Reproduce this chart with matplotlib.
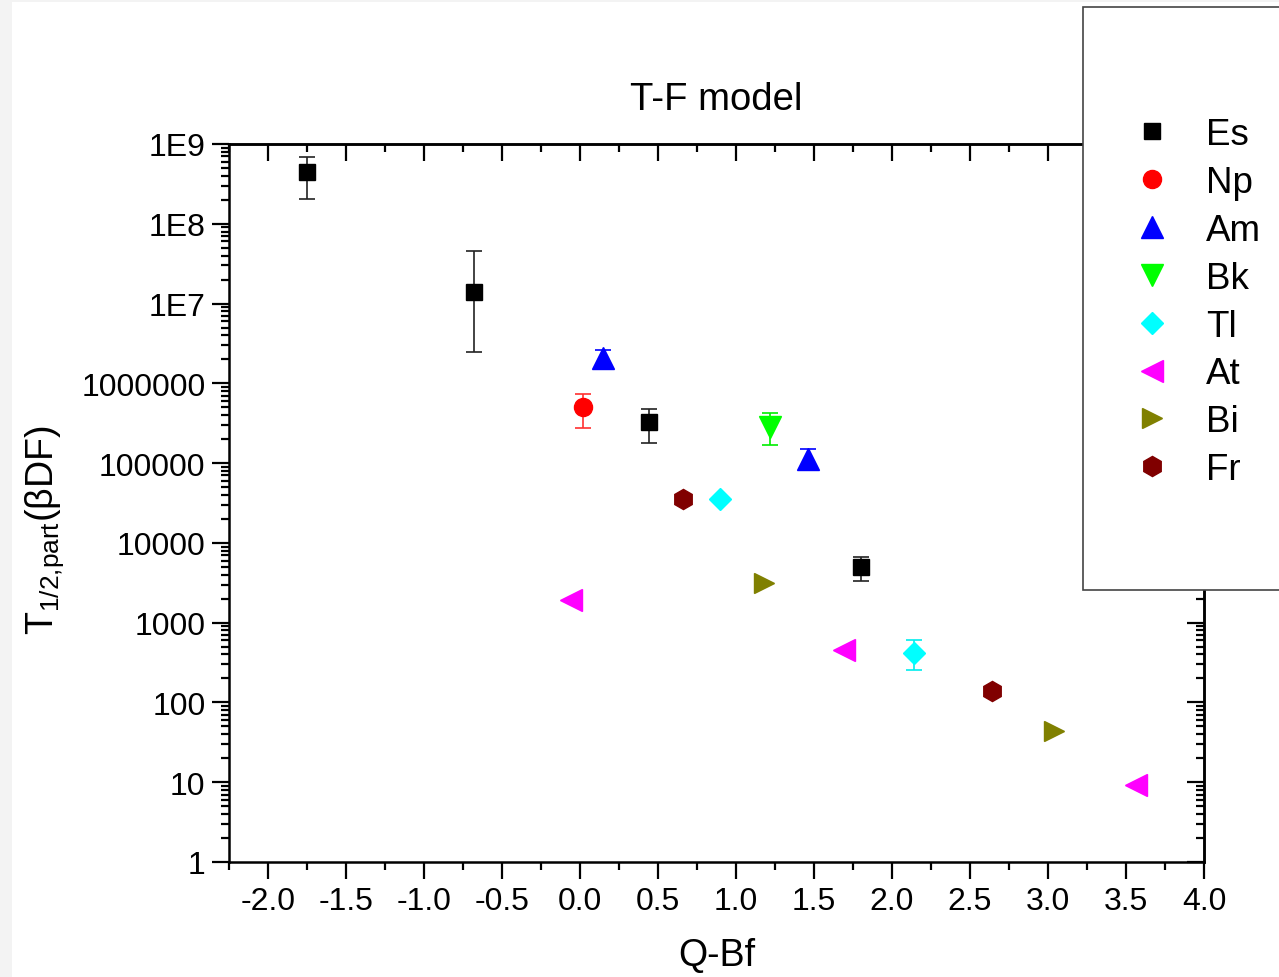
import matplotlib
matplotlib.use("Agg")
import matplotlib.pyplot as plt
from matplotlib.patches import Rectangle
from matplotlib.lines import Line2D
from matplotlib.ticker import FixedLocator, MultipleLocator, LogLocator, NullFormatter, FixedFormatter

plt.rcParams['font.family'] = ['Liberation Sans', 'DejaVu Sans']
plt.rcParams['mathtext.fontset'] = 'custom'
plt.rcParams['mathtext.rm'] = 'Liberation Sans'
plt.rcParams['mathtext.it'] = 'Liberation Sans'

# ---------------- data ----------------
es_x = [-1.75, -0.68, 0.44, 1.80]
es_y = [4.45e8, 1.39e7, 3.24e5, 5.0e3]
es_hi = [6.9e8, 4.5e7, 4.7e5, 6.7e3]
es_lo = [2.05e8, 2.5e6, 1.8e5, 3.3e3]

np_x = [0.02]
np_y = [5.0e5]
np_hi = [7.3e5]
np_lo = [2.75e5]

am_x = [0.15, 1.46]
am_y = [2.1e6, 1.12e5]
am_hi = [2.6e6, 1.5e5]
am_lo = [1.5e6, 8.2e4]

bk_x = [1.22]
bk_y = [2.8e5]
bk_hi = [4.2e5]
bk_lo = [1.7e5]

tl_x = [0.90, 2.14]
tl_y = [3.6e4, 420]
tl_hi = [3.6e4, 600]
tl_lo = [3.6e4, 255]

at_x = [-0.055, 1.69, 3.565]
at_y = [1950, 450, 9.2]

bi_x = [1.18, 3.04]
bi_y = [3100, 44]

fr_x = [0.66, 2.64]
fr_y = [3.6e4, 140]

y_ticks = [1, 10, 100, 1000, 10000, 100000, 1000000, 1e7, 1e8, 1e9]
y_tick_labels = ['1', '10', '100', '1000', '10000', '100000', '1000000', '1E7', '1E8', '1E9']
x_ticks = [-2.0, -1.5, -1.0, -0.5, 0.0, 0.5, 1.0, 1.5, 2.0, 2.5, 3.0, 3.5, 4.0]

# ---------------- figure ----------------
W, H = 1279, 978
fig = plt.figure(figsize=(W / 100, H / 100), dpi=100)
ax = fig.add_axes([229 / W, 1 - 863 / H, (1204 - 229) / W, (863 - 145) / H])

# light grey page edges
fig.patches.append(Rectangle((0, 0), 12 / W, 1, transform=fig.transFigure,
                             facecolor='#f3f3f3', edgecolor='none', zorder=-1))
fig.patches.append(Rectangle((0, 1 - 3 / H), 1, 3 / H, transform=fig.transFigure,
                             facecolor='#f3f3f3', edgecolor='none', zorder=-1))


def err(y, hi, lo):
    return [[v - l for v, l in zip(y, lo)], [h - v for v, h in zip(y, hi)]]


eb_kw = dict(linestyle='none', capsize=5.5, elinewidth=1.2, capthick=1.2)

ax.errorbar(es_x, es_y, yerr=err(es_y, es_hi, es_lo), marker='s', ms=11.5,
            color='black', ecolor='#222222', mec='black', **eb_kw)
ax.errorbar(np_x, np_y, yerr=err(np_y, np_hi, np_lo), marker='o', ms=13,
            color='#ff0000', ecolor='#ff3030', mec='#ff0000', **eb_kw)
ax.errorbar(am_x, am_y, yerr=err(am_y, am_hi, am_lo), marker='^', ms=16,
            color='#0000ff', ecolor='#0000ff', mec='#0000ff', **eb_kw)
ax.errorbar(bk_x, bk_y, yerr=err(bk_y, bk_hi, bk_lo), marker='v', ms=15.5,
            color='#00ff00', ecolor='#00ee00', mec='#00ff00', **eb_kw)
ax.errorbar(tl_x, tl_y, yerr=err(tl_y, tl_hi, tl_lo), marker='D', ms=11,
            color='#00ffff', ecolor='#00eeee', mec='#00ffff', **eb_kw)
ax.plot(at_x, at_y, linestyle='none', marker='<', ms=16, color='#ff00ff', mec='#ff00ff')
ax.plot(bi_x, bi_y, linestyle='none', marker='>', ms=15, color='#808000', mec='#808000')
ax.plot(fr_x, fr_y, linestyle='none', marker='h', ms=14.5, color='#800000', mec='#800000')

ax.set_yscale('log')
ax.set_xlim(-2.25, 4.0)
ax.set_ylim(1, 1e9)

ax.xaxis.set_major_locator(FixedLocator(x_ticks))
ax.xaxis.set_minor_locator(MultipleLocator(0.25))
ax.set_xticklabels([f'{v:.1f}' for v in x_ticks])
ax.yaxis.set_major_locator(FixedLocator(y_ticks))
ax.yaxis.set_major_formatter(FixedFormatter(y_tick_labels))
ax.yaxis.set_minor_locator(LogLocator(base=10, subs=range(2, 10), numticks=20))
ax.yaxis.set_minor_formatter(NullFormatter())

ax.tick_params(which='major', direction='out', length=12, width=1.6, labelsize=23, pad=5,
               top=False, right=False)
ax.tick_params(which='minor', direction='out', length=6, width=1.6, top=False, right=False)
for s in ax.spines.values():
    s.set_linewidth(1.8)

# top and right inward ticks
sx = ax.secondary_xaxis('top')
sx.xaxis.set_major_locator(FixedLocator(x_ticks))
sx.xaxis.set_minor_locator(MultipleLocator(0.25))
sx.tick_params(which='major', direction='in', length=12, width=1.6, labeltop=False)
sx.tick_params(which='minor', direction='in', length=6, width=1.6)
sx.spines['top'].set_linewidth(1.8)

sy = ax.secondary_yaxis('right')
sy.yaxis.set_major_locator(FixedLocator(y_ticks))
sy.yaxis.set_minor_locator(LogLocator(base=10, subs=range(2, 10), numticks=20))
sy.yaxis.set_minor_formatter(NullFormatter())
sy.tick_params(which='major', direction='in', length=12, width=1.6, labelright=False)
sy.tick_params(which='minor', direction='in', length=6, width=1.6)
sy.spines['right'].set_linewidth(1.8)

ax.set_xlabel('Q-Bf', fontsize=27)
ax.xaxis.label.set_va('center')
ax.xaxis.set_label_coords(0.5, (863 - 956) / 718)
ax.set_ylabel(r'T$_{\mathregular{1/2{,}part}}$(βDF)', fontsize=27)
ax.yaxis.label.set_va('center')
ax.yaxis.label.set_ha('center')
ax.yaxis.set_label_coords((45 - 229) / 975, (863 - 530) / 718)

fig.text(716 / W, 1 - 100 / H, 'T-F model', fontsize=27.5, ha='center', va='center')

# legend box
fig.patches.append(Rectangle((1083 / W, 1 - 591 / H), 300 / W, (591 - 8) / H,
                             transform=fig.transFigure, facecolor='white',
                             edgecolor='#444444', linewidth=1.2, zorder=5))
handles = [
    Line2D([], [], ls='none', marker='s', ms=11.5, color='black'),
    Line2D([], [], ls='none', marker='o', ms=13, color='#ff0000'),
    Line2D([], [], ls='none', marker='^', ms=16, color='#0000ff'),
    Line2D([], [], ls='none', marker='v', ms=15.5, color='#00ff00'),
    Line2D([], [], ls='none', marker='D', ms=11, color='#00ffff'),
    Line2D([], [], ls='none', marker='<', ms=16, color='#ff00ff'),
    Line2D([], [], ls='none', marker='>', ms=15, color='#808000'),
    Line2D([], [], ls='none', marker='h', ms=14.5, color='#800000'),
]
labels = ['Es', 'Np', 'Am', 'Bk', 'Tl', 'At', 'Bi', 'Fr']
leg = fig.legend(handles, labels, loc='upper left',
                 bbox_to_anchor=(1134 / W, 1 - 118 / H), frameon=False,
                 fontsize=26.5, handlelength=1.0, handletextpad=0.95,
                 labelspacing=0.35, borderpad=0, borderaxespad=0)
leg.set_zorder(6)

fig.savefig('out.png', dpi=100)
